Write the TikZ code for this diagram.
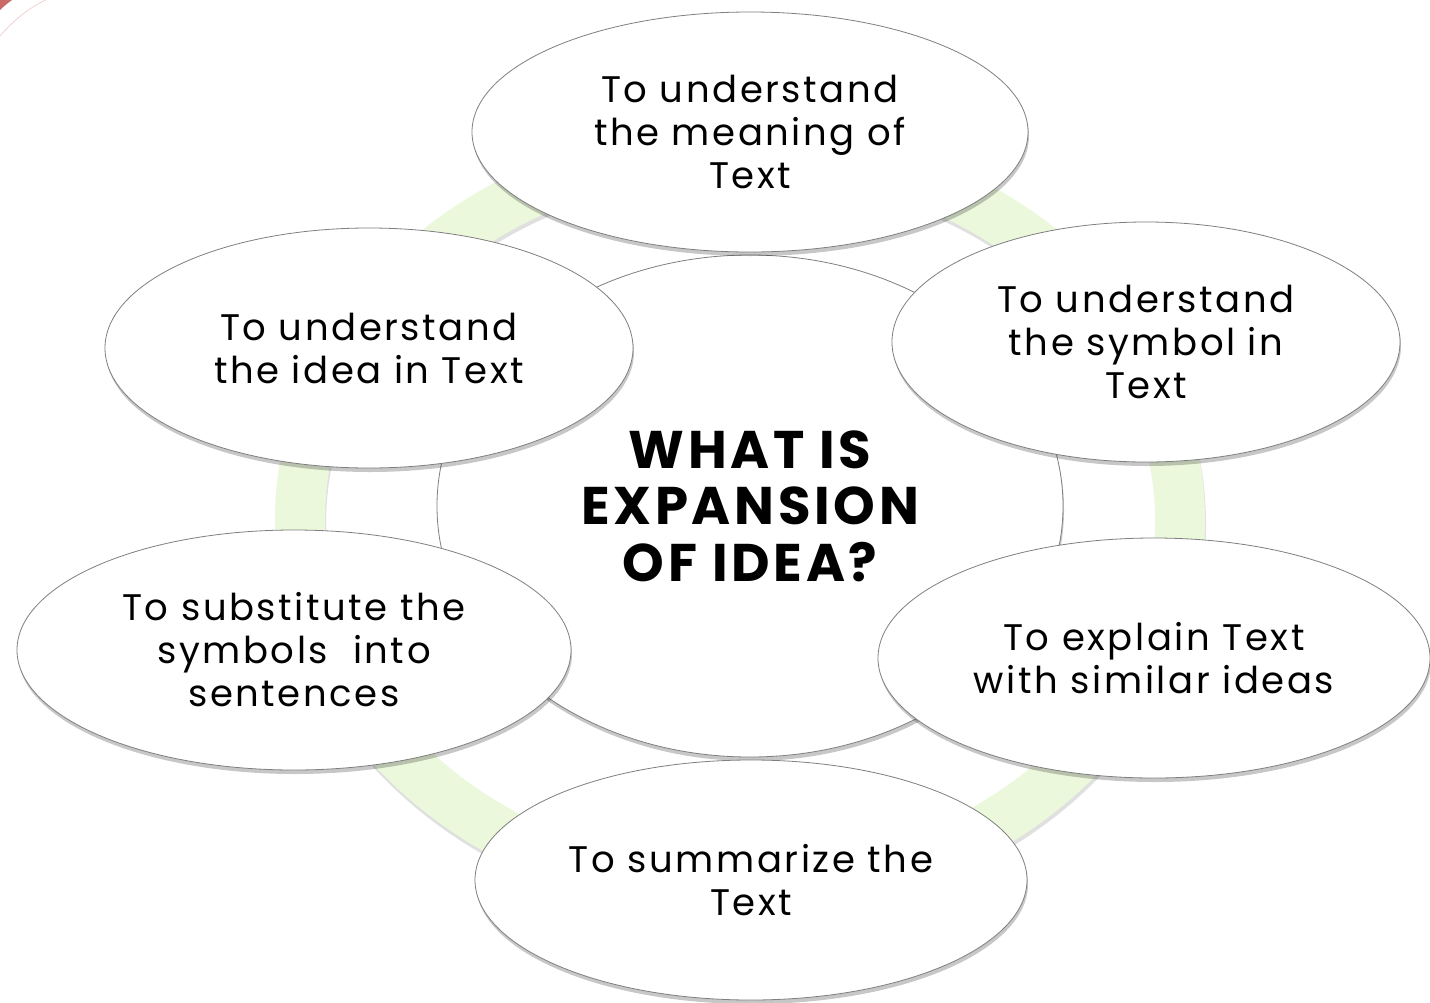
\documentclass[tikz,border=0pt]{standalone}
\usepackage{fontspec}
\setmainfont{Poppins}[LetterSpace=7]
\usetikzlibrary{shapes.geometric,shadows}
\definecolor{ringgreen}{HTML}{EBF8DC}
\definecolor{edgegray}{HTML}{7F7F7F}
\definecolor{slidered}{HTML}{C0504D}
\tikzset{
  softshadow/.style={drop shadow={shadow xshift=1pt, shadow yshift=-4pt, opacity=0.22, fill=black}},
  bubble/.style={ellipse, draw=edgegray, line width=0.8pt, fill=white, inner sep=0pt,
    align=center, font=\fontsize{37}{43}\selectfont, softshadow},
  hub/.style={ellipse, draw=edgegray, line width=0.8pt, fill=white, inner sep=0pt,
    align=center, font=\bfseries\fontsize{53}{56.5}\selectfont, softshadow},
}
\begin{document}
\begin{tikzpicture}[x=1pt,y=-1pt]
\useasboundingbox (0,0) rectangle (1430,1002);
\fill[white] (0,0) rectangle (1430,1002);
% slide corner decoration
\fill[slidered!85] (0,0) -- (12,0) .. controls (8,3) and (4,6) .. (0,10) -- cycle;
\draw[slidered!30, line width=0.6pt] (0,36) .. controls (12,22) and (28,8) .. (46,0);
% green ring
\fill[black, opacity=0.12, even odd rule] (741,524) ellipse [x radius=465, y radius=397] (741,524) ellipse [x radius=415, y radius=347];
\fill[ringgreen, even odd rule] (740,520) ellipse [x radius=465, y radius=397] (740,520) ellipse [x radius=415, y radius=347];
% hub
\node[hub, minimum width=626pt, minimum height=502pt] (c) at (750,506) {WHAT IS\\EXPANSION\\OF IDEA?};
% outer bubbles
\node[bubble, minimum width=556pt, minimum height=240pt] (t)  at (750,132) {To understand\\the meaning of\\Text};
\node[bubble, minimum width=508pt, minimum height=240pt] (ur) at (1146,342) {To understand\\the symbol in\\Text};
\node[bubble, minimum width=552pt, minimum height=240pt] (lr) at (1154,658) {To explain Text\\with similar ideas};
\node[bubble, minimum width=552pt, minimum height=240pt] (b)  at (751,880) {To summarize the\\Text};
\node[bubble, minimum width=554pt, minimum height=240pt] (ll) at (294,650) {To substitute the\\symbols\ \ into\\sentences};
\node[bubble, minimum width=528pt, minimum height=240pt] (ul) at (369,348) {To understand\\the idea in Text};
\end{tikzpicture}
\end{document}
